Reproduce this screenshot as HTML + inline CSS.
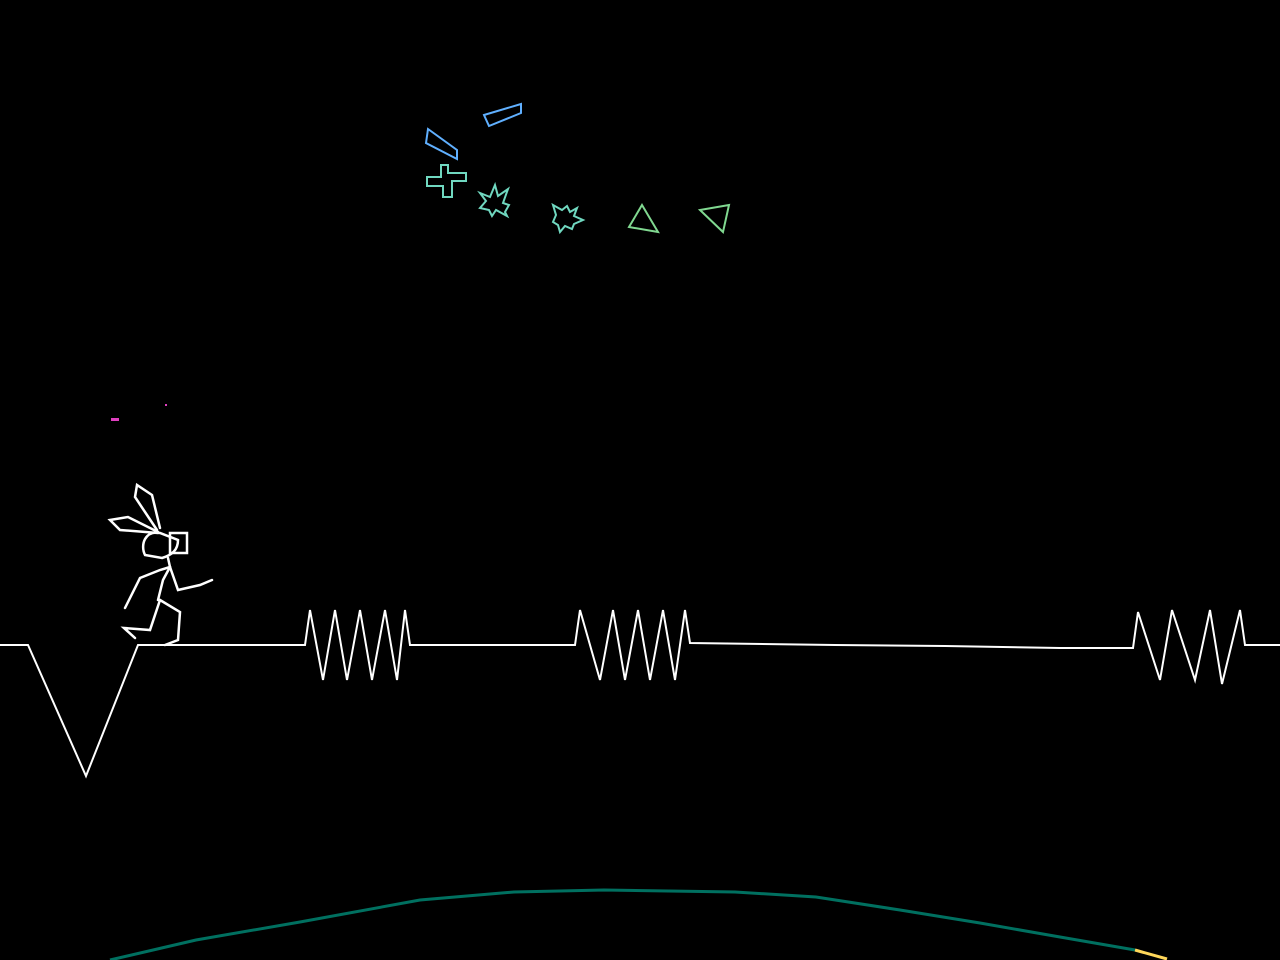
<!DOCTYPE html>
<html><head><style>html,body{margin:0;padding:0;background:#000;width:1280px;height:960px;overflow:hidden}</style></head>
<body>
<svg width="1280" height="960" viewBox="0 0 1280 960" xmlns="http://www.w3.org/2000/svg" fill="none" stroke-linejoin="miter">
<rect width="1280" height="960" fill="#000"/>
<polyline stroke="#fff" stroke-width="2" points="0,645 28,645 86,776 138,645 305,645 310,610 323,680 335,610 347,680 360,610 372,680 385,610 397,680 405,610 410,645 575,645 580,610 600,680 613,610 625,680 638,610 650,680 663,610 675,680 685,610 690,643 835,645 945,646 1060,648 1133,648 1138,612 1160,680 1172,610 1195,680 1210,610 1222,684 1240,610 1245,645 1280,645"/>
<polyline stroke="#007060" stroke-width="3" points="110,960 196,940 300,922 420,900 514,892 604,890 735,892 816,897 900,910 980,923 1060,937 1135,950"/>
<polyline stroke="#ffd75a" stroke-width="3" points="1135,950 1167,959"/>
<rect x="111" y="418" width="8" height="3" fill="#e040c0"/>
<rect x="165" y="404" width="2" height="2" fill="#e040c0"/>
<polygon stroke="#60b0ff" stroke-width="2" points="484,115 521,104 521,113 489,126"/>
<polygon stroke="#60b0ff" stroke-width="2" points="428,129 457,150 457,159 426,143"/>
<polygon stroke="#70d8c0" stroke-width="2" points="441,165 448,165 448,173 466,173 466,181 452,181 452,197 443,197 443,186 427,186 427,177 441,177"/>
<polygon stroke="#70d8c0" stroke-width="2" points="495,185 498,196 508,189 503,203 509,205 505,212 507,216 496,210 492,216 489,210 480,208 486,201 480,193 490,197"/>
<polygon stroke="#70d8c0" stroke-width="2" points="553,205 562,210 567,206 570,212 577,208 574,216 583,220 574,224 572,229 565,226 560,232 558,225 553,222 556,215"/>
<polygon stroke="#80d890" stroke-width="2" points="642,205 658,232 629,227"/>
<polygon stroke="#80d890" stroke-width="2" points="700,210 729,205 723,232"/>
<g stroke="#fff" stroke-width="2.5" stroke-linecap="round">
<polyline points="157,530 135,497 137,485 152,495 160,528"/>
<polyline points="158,532 128,517 110,520 120,530 158,533"/>
<path d="M160,533 C145,530 140,545 145,555 L162,558 C172,555 178,550 178,540 Z"/>
<rect x="170" y="533" width="17" height="20"/>
<polyline points="170,567 160,570 140,578 125,608"/>
<polyline points="170,567 178,590 200,585 212,580"/>
<polyline points="170,567 163,580 158,600"/>
<polyline points="160,600 150,630 124,628 135,638"/>
<polyline points="160,600 180,612 178,640 165,645"/>
<polyline points="168,558 170,567"/>
</g>
</svg>
</body></html>
